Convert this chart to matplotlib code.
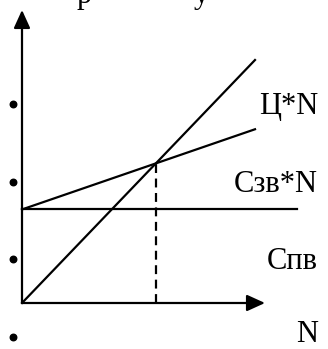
import matplotlib
matplotlib.use("Agg")
import matplotlib.pyplot as plt

# break-even chart: revenue, total cost, fixed cost vs volume N
n_range = [0, 10]
price = 1.0            # Ц
fixed_cost = 3.85      # Спв
var_cost = 0.33        # Сзв
fixed_line_end = 11.8
labels = ["Ц*N", "Сзв*N", "Спв", "N"]
label_y = [7.78, 4.57, 1.40, -1.62]
bullet_y = [8.19, 4.98, 1.81, -1.40]

revenue = [price * n for n in n_range]
total_cost = [fixed_cost + var_cost * n for n in n_range]
n_even = fixed_cost / (price - var_cost)
y_even = price * n_even

plt.rcParams['font.family'] = ['Liberation Serif', 'DejaVu Serif']

W, H = 328, 349
fig = plt.figure(figsize=(W / 100, H / 100), dpi=100)
ax = fig.add_axes([0, 0, 1, 1])
sx, sy = 23.3, 24.3   # pixels per unit
ox, oy = 22, 303      # origin in pixels (from top-left)
ax.set_xlim(-ox / sx, (W - ox) / sx)
ax.set_ylim(-(H - oy) / sy, oy / sy)
ax.axis('off')

lw = 1.6
ax.plot(n_range, revenue, color='black', lw=lw)
ax.plot(n_range, total_cost, color='black', lw=lw)
ax.plot([0, fixed_line_end], [fixed_cost, fixed_cost], color='black', lw=lw)
ax.plot([n_even, n_even], [0, y_even], color='black', lw=lw,
        linestyle=(0, (4, 2.5)))

# axes with arrows
x_tip = (265 - ox) / sx
y_tip = (oy - 10) / sy
ax.annotate('', xy=(x_tip, 0), xytext=(0, 0),
            arrowprops=dict(arrowstyle='-|>,head_length=1.1,head_width=0.5',
                            color='black', lw=lw, shrinkA=0, shrinkB=0))
ax.annotate('', xy=(0, y_tip), xytext=(0, 0),
            arrowprops=dict(arrowstyle='-|>,head_length=1.1,head_width=0.5',
                            color='black', lw=lw, shrinkA=0, shrinkB=0))

# list bullets
ax.scatter([-9 / sx] * len(bullet_y), bullet_y, s=22, color='black')

lab_x = (318 - ox) / sx
for t, y in zip(labels, label_y):
    ax.text(lab_x, y, t, fontsize=22, ha='right', va='baseline')

# cut-off text line above the chart
top_y = (oy - 3) / sy
ax.text((77 - ox) / sx, top_y, "р", fontsize=22, va='baseline')
ax.text((194 - ox) / sx, top_y, "у", fontsize=22, va='baseline')

fig.savefig("out.png", dpi=100)
